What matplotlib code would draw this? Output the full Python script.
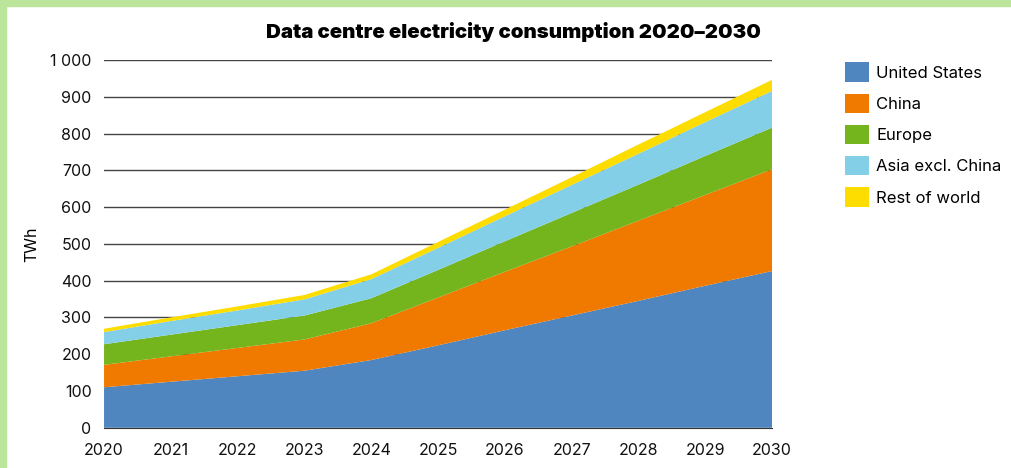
import matplotlib.pyplot as plt
from matplotlib.patches import Patch, Rectangle
from matplotlib.ticker import FuncFormatter

years = [2020, 2021, 2022, 2023, 2024, 2025, 2026, 2027, 2028, 2029, 2030]
united_states = [110, 125, 140, 155, 184, 224, 265, 305, 345, 386, 426]
china = [61, 69, 77, 85, 100, 130, 159, 188, 218, 247, 277]
europe = [56, 59, 62, 65, 68, 75, 83, 91, 98, 106, 113]
asia_excl_china = [33, 37, 40, 44, 52, 60, 68, 76, 84, 92, 100]
rest_of_world = [9, 10, 11, 12, 13, 16, 18, 21, 25, 27, 30]

labels = ["United States", "China", "Europe", "Asia excl. China", "Rest of world"]
colors = ["#4f86c0", "#f07a00", "#74b41c", "#83cfe8", "#fddc00"]

plt.rcParams["font.family"] = ["Inter", "DejaVu Sans"]

fig = plt.figure(figsize=(10.11, 4.68), dpi=100)
ax = fig.add_axes([0.1029, 0.0861, 0.6607, 0.7857])

ax.stackplot(years, united_states, china, europe, asia_excl_china, rest_of_world,
             colors=colors, linewidth=0, zorder=3)

ax.set_xlim(2020, 2030)
ax.set_ylim(0, 1000)
ax.set_xticks(years)
ax.set_yticks(range(0, 1001, 100))
ax.yaxis.set_major_formatter(FuncFormatter(lambda v, p: f"{int(v):,}".replace(",", " ")))
ax.grid(axis="y", color="#444444", linewidth=1, zorder=1)
ax.set_axisbelow(True)
for s in ["top", "right", "left"]:
    ax.spines[s].set_visible(False)
ax.spines["bottom"].set_color("#333333")
ax.spines["bottom"].set_zorder(4)
ax.tick_params(length=0, labelsize=11.5, colors="#111111")
ax.tick_params(axis="y", pad=9)
ax.tick_params(axis="x", pad=11)
ax.set_ylabel("TWh", fontsize=11.5, labelpad=8)

fig.text(513 / 1011, 1 - 32 / 468, "Data centre electricity consumption 2020\u20132030",
         ha="center", va="center", fontsize=14.7, fontweight="black")

handles = [Patch(facecolor=c, edgecolor="none") for c in colors]
fig.legend(handles, labels, loc="upper left", bbox_to_anchor=(0.823, 0.895),
           frameon=False, fontsize=12, handlelength=1.4, handleheight=1.4,
           handletextpad=0.45, labelspacing=0.72, borderpad=0.3)

# green frame on top and left
fig.patches.append(Rectangle((0, 1 - 6 / 468), 1, 6 / 468, transform=fig.transFigure,
                             color="#bbe59b", zorder=0))
fig.patches.append(Rectangle((0, 0), 6 / 1011, 1, transform=fig.transFigure,
                             color="#bbe59b", zorder=0))

fig.savefig("out.png", dpi=100)
